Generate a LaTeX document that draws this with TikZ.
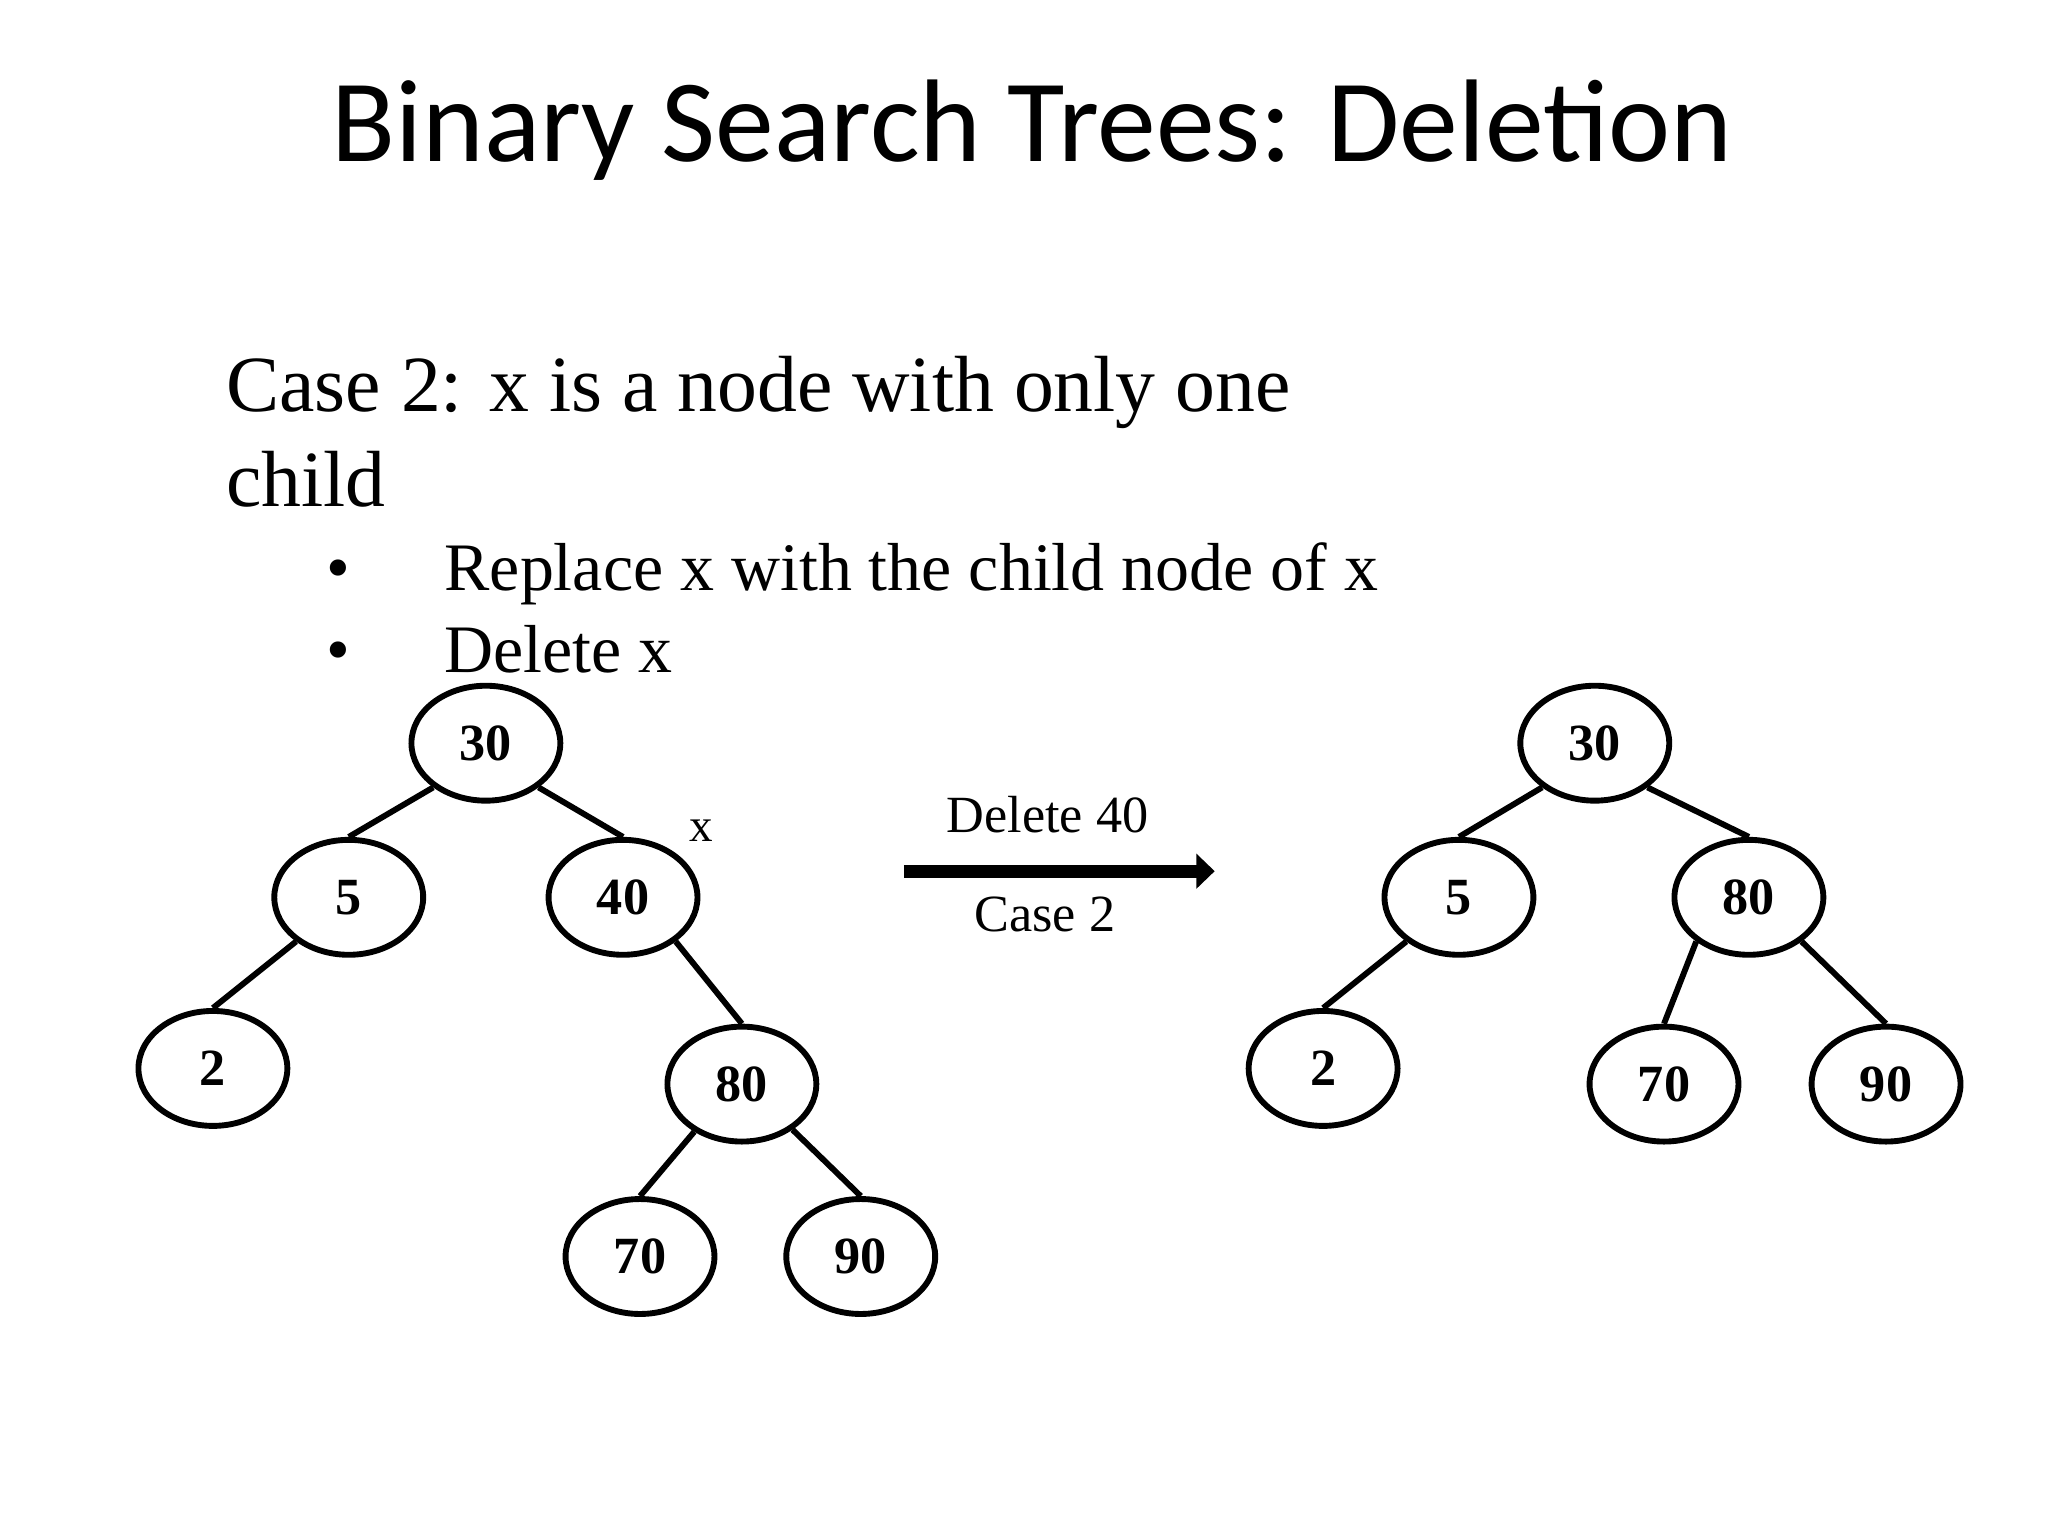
\documentclass[tikz,border=0pt]{standalone}
\usepackage{fontspec}
\setmainfont{Liberation Serif}
\newfontfamily\titlefont{Carlito}
\usetikzlibrary{shapes.geometric,arrows.meta}
\begin{document}
\begin{tikzpicture}[x=1pt,y=-1pt,
  tn/.style={ellipse,draw,line width=4.5pt,minimum width=114pt,minimum height=88pt,inner sep=0pt,font=\fontsize{40}{44}\selectfont\bfseries},
  ed/.style={line width=4.5pt}]
\useasboundingbox (0,0) rectangle (1568,1176);
\node (title) at (790,100) {\titlefont\fontsize{90}{100}\selectfont Binary Search Trees: Deletion};
\node[anchor=base west,align=left,inner sep=0pt,font=\fontsize{61}{73}\selectfont] (case) at (173,388) {Case 2: x is a node with only one\\child};
\node[anchor=base west,inner sep=0pt,font=\fontsize{52}{56}\selectfont] (b1) at (250,452) {•\hspace{72pt}Replace x with the child node of x};
\node[anchor=base west,inner sep=0pt,font=\fontsize{52}{56}\selectfont] (b2) at (250,515) {•\hspace{72pt}Delete x};
% left tree
\node[tn] (a30) at (372,569) {30};
\node[tn] (a5) at (267,687) {5};
\node[tn] (a40) at (477,687) {40};
\node[tn] (a2) at (163,818) {2};
\node[tn] (a80) at (568,830) {80};
\node[tn] (a70) at (490,962) {70};
\node[tn] (a90) at (659,962) {90};
\node (xl) at (537,636) {\fontsize{36}{40}\selectfont x};
\draw[ed] (a30.220)--(a5.north); \draw[ed] (a30.320)--(a40.north); \draw[ed] (a5.220)--(a2.north);
\draw[ed] (a40.320)--(a80.north); \draw[ed] (a80.225)--(a70.north); \draw[ed] (a80.318)--(a90.north);
% arrow
\coordinate (s) at (692,667); \coordinate (e) at (930,667);
\draw[line width=10pt,-{Triangle[length=14pt,width=26pt]}] (s)--(e);
\node (d40) at (802,624) {\fontsize{40}{44}\selectfont Delete 40};
\node (c2) at (800,700) {\fontsize{40}{44}\selectfont Case 2};
% right tree
\node[tn] (b30) at (1221,569) {30};
\node[tn] (b5) at (1117,687) {5};
\node[tn] (b80) at (1339,687) {80};
\node[tn] (b2n) at (1013,818) {2};
\node[tn] (b70) at (1274,830) {70};
\node[tn] (b90) at (1444,830) {90};
\draw[ed] (b30.220)--(b5.north); \draw[ed] (b30.320)--(b80.north); \draw[ed] (b5.220)--(b2n.north);
\draw[ed] (b80.220)--(b70.north); \draw[ed] (b80.320)--(b90.north);
\end{tikzpicture}
\end{document}
